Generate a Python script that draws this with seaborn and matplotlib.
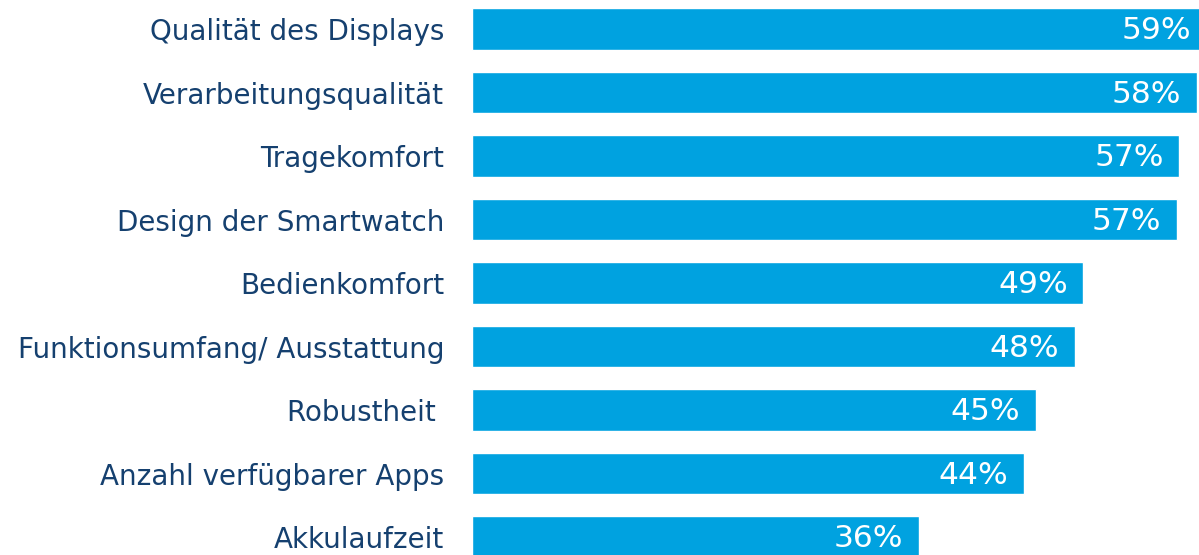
import matplotlib
matplotlib.use("Agg")
import matplotlib.pyplot as plt
import seaborn as sns
import pandas as pd

categories = [
    "Qualität des Displays",
    "Verarbeitungsqualität",
    "Tragekomfort",
    "Design der Smartwatch",
    "Bedienkomfort",
    "Funktionsumfang/ Ausstattung",
    "Robustheit ",
    "Anzahl verfügbarer Apps",
    "Akkulaufzeit",
]
values = [59.0, 58.2, 56.8, 56.6, 49.1, 48.4, 45.3, 44.3, 35.9]
value_labels = ["59%", "58%", "57%", "57%", "49%", "48%", "45%", "44%", "36%"]

bar_color = "#00A2E0"
text_color = "#15406F"

sns.set_theme(style="white")
plt.rcParams["font.family"] = ["DejaVu Sans"]

df = pd.DataFrame({"cat": categories, "val": values})

fig = plt.figure(figsize=(11.99, 5.55), dpi=100)
ax = fig.add_axes([472 / 1199, 0, 727 / 1199, 1])

sns.barplot(data=df, y="cat", x="val", orient="h", color=bar_color,
            saturation=1, width=0.66, ax=ax)

ax.set_xlim(0, 727 / 12.45)
ax.set_ylim(8.283, -0.457)

for i, (v, lab) in enumerate(zip(values, value_labels)):
    ax.text(v - 1.25, i + 0.03, lab, color="white", fontsize=22.5,
            ha="right", va="center")

ax.set_xlabel("")
ax.set_ylabel("")
ax.set_xticks([])
ax.tick_params(axis="y", length=0, pad=20, labelsize=20, labelcolor=text_color)
for s in ax.spines.values():
    s.set_visible(False)

fig.savefig("out.png", dpi=100)
